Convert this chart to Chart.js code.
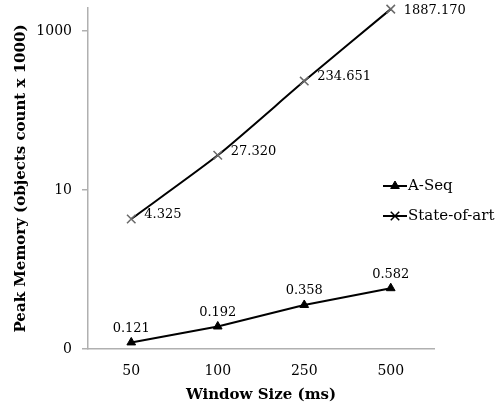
<!DOCTYPE html>
<html><head><meta charset="utf-8">
<script src="https://cdn.jsdelivr.net/npm/chart.js@4"></script>
<style>html,body{margin:0;padding:0;background:#fff}canvas{display:block}</style>
</head><body>
<canvas id="c" width="504" height="411"></canvas>
<script>
const categories = ['50', '100', '250', '500'];
const aSeq = [0.121, 0.192, 0.358, 0.582];
const stateOfArt = [4.325, 27.320, 234.651, 1887.170];
const aSeqLabels = ['0.121', '0.192', '0.358', '0.582'];
const stateLabels = ['4.325', '27.320', '234.651', '1887.170'];
const yTickValues = [0.1, 10, 1000];
const yTickLabels = ['0', '10', '1000'];
const seriesNames = ['A-Seq', 'State-of-art'];
const xTitle = 'Window Size (ms)';
const yTitle = 'Peak Memory (objects count x 1000)';

const FONT = "'DejaVu Serif', 'Liberation Serif', serif";
const AXIS = '#b0b0b0';

function drawMarker(ctx, style, r, x, y, fill, stroke, bw) {
  ctx.save();
  ctx.fillStyle = fill; ctx.strokeStyle = stroke; ctx.lineWidth = bw;
  if (Chart.helpers && Chart.helpers.drawPoint) {
    Chart.helpers.drawPoint(ctx, {pointStyle: style, radius: r, borderWidth: bw, rotation: 0}, x, y);
  } else {
    ctx.beginPath();
    if (style === 'triangle') {
      ctx.moveTo(x, y - r); ctx.lineTo(x + r * 0.87, y + r * 0.5); ctx.lineTo(x - r * 0.87, y + r * 0.5); ctx.closePath();
      ctx.fill(); ctx.stroke();
    } else {
      const d = r * 0.7;
      ctx.moveTo(x - d, y - d); ctx.lineTo(x + d, y + d); ctx.moveTo(x + d, y - d); ctx.lineTo(x - d, y + d); ctx.stroke();
    }
  }
  ctx.restore();
}

const labelPlugin = {
  id: 'valueLabels',
  afterDatasetsDraw(chart) {
    const ctx = chart.ctx;
    chart.data.datasets.forEach((ds, i) => {
      const meta = chart.getDatasetMeta(i);
      meta.data.forEach((pt, j) => {
        ctx.save();
        ctx.font = '13px ' + FONT;
        ctx.fillStyle = '#000';
        if (ds.labelPos === 'top') {
          ctx.textAlign = 'center'; ctx.textBaseline = 'middle';
          ctx.fillText(ds.valueLabels[j], pt.x, pt.y - 14);
        } else {
          ctx.textAlign = 'left'; ctx.textBaseline = 'middle';
          const y = Math.max(pt.y - 4, chart.chartArea.top + 3);
          ctx.fillText(ds.valueLabels[j], pt.x + 13, y);
        }
        ctx.restore();
      });
    });
  }
};

const legendPlugin = {
  id: 'customLegend',
  afterDraw(chart) {
    const ctx = chart.ctx;
    const x0 = 383, y0 = 186, gap = 30, len = 24;
    chart.data.datasets.forEach((ds, i) => {
      const y = y0 + i * gap;
      ctx.save();
      ctx.strokeStyle = ds.borderColor; ctx.lineWidth = ds.borderWidth;
      ctx.beginPath(); ctx.moveTo(x0, y); ctx.lineTo(x0 + len, y); ctx.stroke();
      ctx.restore();
      drawMarker(ctx, ds.pointStyle, ds.pointRadius, x0 + len / 2, y, ds.pointBackgroundColor, ds.legendMarkerColor, ds.pointBorderWidth);
      ctx.save();
      ctx.font = '15px ' + FONT; ctx.fillStyle = '#000';
      ctx.textAlign = 'left'; ctx.textBaseline = 'middle';
      ctx.fillText(ds.label, x0 + len + 1, y);
      ctx.restore();
    });
  }
};

new Chart(document.getElementById('c'), {
  type: 'line',
  data: {
    labels: categories,
    datasets: [
      {
        label: seriesNames[0], data: aSeq, valueLabels: aSeqLabels, labelPos: 'top',
        borderColor: '#000', borderWidth: 2, tension: 0,
        pointStyle: 'triangle', pointRadius: 5, pointBackgroundColor: '#000', pointBorderColor: '#000',
        pointBorderWidth: 1, legendMarkerColor: '#000', clip: false
      },
      {
        label: seriesNames[1], data: stateOfArt, valueLabels: stateLabels, labelPos: 'right',
        borderColor: '#000', borderWidth: 2, tension: 0.2,
        pointStyle: 'crossRot', pointRadius: 6, pointBackgroundColor: '#666', pointBorderColor: '#6a6a6a',
        pointBorderWidth: 1.5, legendMarkerColor: '#000', clip: false
      }
    ]
  },
  options: {
    responsive: false, animation: false, devicePixelRatio: 1,
    layout: {padding: {left: 0, right: 70, top: 8, bottom: 0}},
    plugins: {legend: {display: false}, tooltip: {enabled: false}},
    scales: {
      x: {
        offset: true,
        grid: {display: true, drawOnChartArea: false, drawTicks: false},
        border: {display: true, color: AXIS, width: 1.5},
        ticks: {color: '#000', font: {family: FONT, size: 14}, padding: 14},
        title: {display: true, text: xTitle, color: '#000', font: {family: FONT, size: 15, weight: 'bold'}, padding: {top: 0, bottom: 7}},
        afterFit(s) { s.height = 62; s.paddingLeft = 0; s.paddingRight = 0; }
      },
      y: {
        type: 'logarithmic', min: 0.1, max: 1950,
        grid: {display: true, drawOnChartArea: false, drawTicks: true, tickLength: 6, color: AXIS, lineWidth: 1.5},
        border: {display: true, color: AXIS, width: 1.5},
        afterBuildTicks(s) { s.ticks = yTickValues.map(v => ({value: v})); },
        ticks: {
          color: '#000', font: {family: FONT, size: 14}, padding: 10,
          callback(v) { const k = yTickValues.indexOf(v); return k >= 0 ? yTickLabels[k] : ''; }
        },
        title: {display: true, text: yTitle, color: '#000', font: {family: FONT, size: 15, weight: 'bold'}, padding: {top: 12, bottom: 0}},
        afterFit(s) { s.width = 88; s.paddingTop = 0; s.paddingBottom = 0; }
      }
    }
  },
  plugins: [labelPlugin, legendPlugin]
});
</script>
</body></html>
